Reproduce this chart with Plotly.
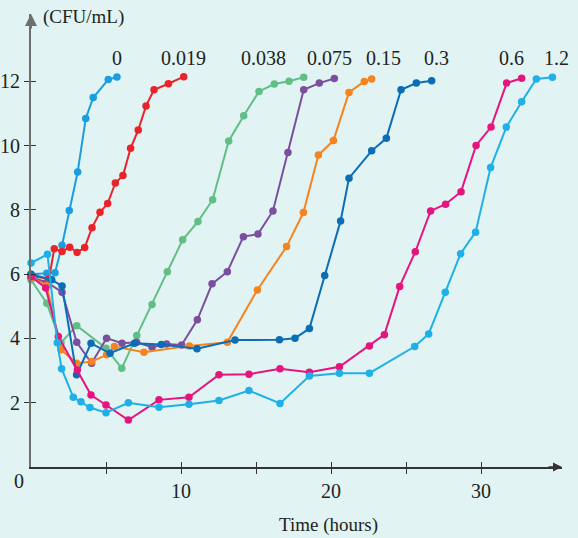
import plotly.graph_objects as go

# concentration labels and colours
conc_labels = ["0", "0.019", "0.038", "0.075", "0.15", "0.3", "0.6", "1.2"]
colors = ["#1a9ee0", "#e8232a", "#62be87", "#7b4f9e", "#f5841f", "#0b6db5", "#e6147f", "#1fb0e8"]

# time (hours) and count values
t_0 = [0, 1.05, 1.6, 2.07, 2.55, 3.11, 3.65, 4.15, 5.15, 5.73]
v_0 = [6.0, 6.03, 6.05, 6.9, 7.98, 9.18, 10.85, 11.5, 12.06, 12.14]

t_019 = [0, 1.2, 1.55, 2.07, 2.58, 3.07, 3.58, 4.07, 4.6, 5.11, 5.62, 6.13, 6.64, 7.15, 7.67, 8.2, 9.16, 10.18]
v_019 = [5.95, 5.85, 6.79, 6.71, 6.84, 6.68, 6.83, 7.45, 7.93, 8.2, 8.84, 9.07, 9.92, 10.49, 11.24, 11.74, 11.93, 12.15]

t_038 = [0, 1.05, 2.0, 3.05, 5.0, 6.05, 7.05, 8.07, 9.09, 10.11, 11.13, 12.11, 13.18, 14.18, 15.2, 16.22, 17.2, 18.18]
v_038 = [5.83, 5.1, 3.87, 4.4, 3.7, 3.07, 4.09, 5.06, 6.08, 7.07, 7.64, 8.32, 10.15, 10.93, 11.69, 11.92, 12.01, 12.13]

t_075 = [0, 1.05, 2.07, 3.05, 4.04, 5.04, 6.07, 7.04, 8.07, 9.04, 10.04, 11.09, 12.07, 13.09, 14.16, 15.13, 16.13, 17.13, 18.18, 19.22, 20.22]
v_075 = [5.9, 5.75, 5.44, 3.88, 3.23, 4.01, 3.85, 3.88, 3.73, 3.83, 3.8, 4.58, 5.7, 6.08, 7.17, 7.25, 7.97, 9.79, 11.74, 11.95, 12.09]

t_15 = [0, 1.05, 2.0, 3.04, 4.04, 5.04, 5.56, 7.53, 10.56, 13.09, 15.09, 17.04, 18.16, 19.16, 20.16, 21.2, 22.22, 22.71]
v_15 = [5.9, 5.65, 3.65, 3.23, 3.28, 3.49, 3.75, 3.57, 3.77, 3.88, 5.51, 6.86, 7.92, 9.71, 10.16, 11.66, 12.0, 12.08]

t_3 = [0, 1.38, 2.07, 3.04, 4.0, 5.27, 6.9, 8.69, 11.07, 13.6, 16.56, 17.6, 18.56, 19.58, 20.64, 21.2, 22.71, 23.69, 24.67, 25.69, 26.71]
v_3 = [6.0, 5.83, 5.63, 2.87, 3.85, 3.54, 3.85, 3.81, 3.68, 3.95, 3.96, 4.01, 4.31, 5.96, 7.66, 8.99, 9.84, 10.23, 11.74, 11.95, 12.02]

t_6 = [0, 0.98, 1.82, 3.09, 4.0, 5.0, 6.49, 8.53, 10.53, 12.53, 14.53, 16.6, 18.56, 20.56, 22.56, 23.56, 24.58, 25.62, 26.64, 27.64, 28.67, 29.67, 30.67, 31.71, 32.71]
v_6 = [5.93, 5.57, 4.06, 3.02, 2.24, 1.93, 1.46, 2.09, 2.17, 2.87, 2.89, 3.06, 2.95, 3.12, 3.77, 4.12, 5.62, 6.7, 7.97, 8.18, 8.57, 10.01, 10.58, 11.95, 12.1]

t_12 = [0, 1.1, 1.75, 2.04, 2.82, 3.33, 3.93, 5.0, 6.49, 8.53, 10.53, 12.53, 14.53, 16.6, 18.56, 20.56, 22.56, 25.58, 26.51, 27.62, 28.64, 29.64, 30.64, 31.69, 32.71, 33.69, 34.76]
v_12 = [6.35, 6.62, 3.87, 3.06, 2.17, 2.03, 1.85, 1.69, 2.0, 1.86, 1.95, 2.07, 2.38, 1.98, 2.83, 2.92, 2.92, 3.75, 4.14, 5.44, 6.64, 7.31, 9.32, 10.58, 11.37, 12.08, 12.13]

# where the concentration labels sit (data coords)
label_x = [5.75, 10.17, 15.49, 19.93, 23.49, 27.05, 32.0, 35.0]
label_y = 12.74

x_ticks = [5, 10, 15, 20, 25, 30]
x_ticktext = ["", "10", "", "20", "", "30"]
y_ticks = [2, 4, 6, 8, 10, 12]

series = [(t_0, v_0), (t_019, v_019), (t_038, v_038), (t_075, v_075),
          (t_15, v_15), (t_3, v_3), (t_6, v_6), (t_12, v_12)]

XMAX = 35.4
YMAX = 14.1
BG = "#e1f3f3"
FONT = "Liberation Serif"

fig = go.Figure()
for (t, v), name, c in zip(series, conc_labels, colors):
    fig.add_trace(go.Scatter(x=t, y=v, mode="lines+markers", name=name,
                             line=dict(color=c, width=2), marker=dict(color=c, size=7.5),
                             showlegend=False, cliponaxis=False))

# dummy trace so the overlay axes (inner half of the crossing ticks) get drawn
fig.add_trace(go.Scatter(x=[None], y=[None], xaxis="x2", yaxis="y2", showlegend=False))

for lx, lab in zip(label_x, conc_labels):
    fig.add_annotation(x=lx, y=label_y, text=lab, showarrow=False,
                       font=dict(family=FONT, size=20, color="#231f20"))

# axis arrows
fig.add_annotation(x=0, y=YMAX, ax=0, ay=YMAX - 0.5, xref="x", yref="y", axref="x", ayref="y",
                   showarrow=True, arrowhead=2, arrowsize=1.2, arrowwidth=2, arrowcolor="#6e6e6e", text="")
fig.add_annotation(x=XMAX, y=0, ax=XMAX - 1, ay=0, xref="x", yref="y", axref="x", ayref="y",
                   showarrow=True, arrowhead=2, arrowsize=1.2, arrowwidth=1.5, arrowcolor="#333333", text="")

fig.add_annotation(x=0, y=14.0, text="(CFU/mL)", showarrow=False, xanchor="left", xshift=10,
                   font=dict(family=FONT, size=19, color="#231f20"))
fig.add_annotation(x=19.8, y=0, text="Time (hours)", showarrow=False, yshift=-58,
                   font=dict(family=FONT, size=19, color="#231f20"))
fig.add_annotation(x=0, y=0, text="0", showarrow=False, xshift=-12, yshift=-14,
                   font=dict(family=FONT, size=20, color="#231f20"))

fig.update_layout(
    width=578, height=538,
    margin=dict(l=31, r=16, t=14, b=71),
    paper_bgcolor=BG, plot_bgcolor=BG,
    xaxis=dict(range=[0, XMAX], showgrid=False, zeroline=False, showline=True, automargin=False,
               linecolor="#333333", linewidth=1.5, ticks="outside", ticklen=5,
               tickcolor="#333333", tickwidth=1.2, tickvals=x_ticks, ticktext=x_ticktext,
               tickfont=dict(family=FONT, size=20, color="#231f20")),
    yaxis=dict(range=[0, YMAX], showgrid=False, zeroline=False, showline=True, automargin=False,
               linecolor="#6e6e6e", linewidth=2, ticks="outside", ticklen=5,
               tickcolor="#333333", tickwidth=1.2, tickvals=y_ticks,
               tickfont=dict(family=FONT, size=20, color="#231f20")),
    xaxis2=dict(range=[0, XMAX], overlaying="x", anchor="y2", showgrid=False, zeroline=False,
                showline=False, ticks="inside", ticklen=5, tickcolor="#333333", tickwidth=1.2,
                tickvals=x_ticks, showticklabels=False, automargin=False),
    yaxis2=dict(range=[0, YMAX], overlaying="y", anchor="x2", showgrid=False, zeroline=False,
                showline=False, ticks="inside", ticklen=5, tickcolor="#333333", tickwidth=1.2,
                tickvals=y_ticks, showticklabels=False, automargin=False),
)

fig.write_html("out.html", config={"displayModeBar": False},
               post_script="document.body.style.margin='0';")
